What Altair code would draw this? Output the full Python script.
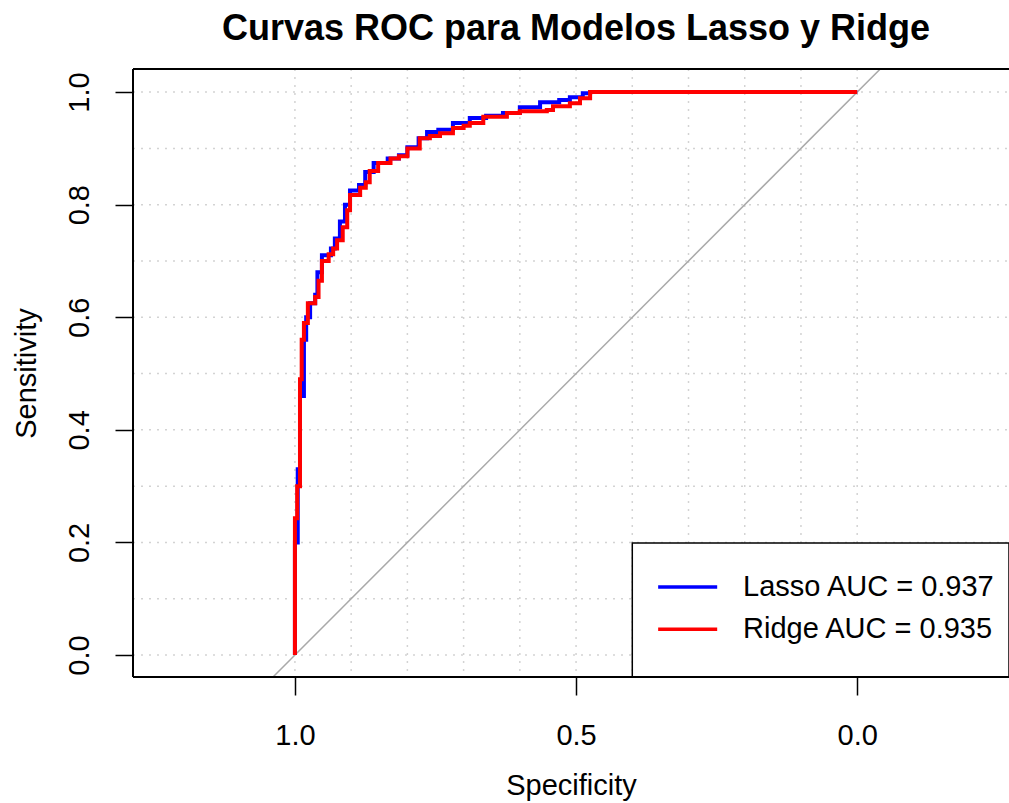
import altair as alt
import pandas as pd

# ---- data ----
ridge_spec = [1.000, 1.000, 0.996, 0.991, 0.988, 0.984, 0.977, 0.964, 0.958, 0.952,
              0.940, 0.932, 0.925, 0.915, 0.907, 0.902, 0.884, 0.874, 0.867, 0.852,
              0.830, 0.815, 0.800, 0.778, 0.760, 0.742, 0.719, 0.700, 0.689, 0.665,
              0.623, 0.600, 0.552, 0.541, 0.511, 0.493, 0.475, 0.000]
ridge_sens = [0.000, 0.243, 0.300, 0.490, 0.560, 0.590, 0.625, 0.636, 0.665, 0.700,
              0.712, 0.722, 0.737, 0.760, 0.790, 0.817, 0.830, 0.840, 0.860, 0.874,
              0.882, 0.886, 0.900, 0.918, 0.922, 0.927, 0.936, 0.940, 0.945, 0.956,
              0.963, 0.966, 0.968, 0.975, 0.980, 0.989, 1.000, 1.000]

lasso_spec = [1.000, 1.000, 0.995, 0.991, 0.984, 0.980, 0.973, 0.964, 0.960, 0.952,
              0.936, 0.929, 0.920, 0.911, 0.902, 0.886, 0.875, 0.860, 0.835, 0.815,
              0.800, 0.780, 0.765, 0.745, 0.719, 0.689, 0.660, 0.630, 0.600, 0.564,
              0.530, 0.511, 0.488, 0.475, 0.000]
lasso_sens = [0.000, 0.200, 0.330, 0.460, 0.560, 0.600, 0.625, 0.640, 0.680, 0.710,
              0.722, 0.740, 0.770, 0.800, 0.825, 0.835, 0.858, 0.874, 0.882, 0.888,
              0.902, 0.918, 0.929, 0.933, 0.945, 0.954, 0.958, 0.963, 0.973, 0.982,
              0.986, 0.991, 0.998, 1.000, 1.000]

models = ["Lasso", "Ridge"]
aucs = [0.937, 0.935]
colors = ["#0000FF", "#FF0000"]

x_ticks = [1.0, 0.5, 0.0]
y_ticks = [0.0, 0.2, 0.4, 0.6, 0.8, 1.0]
grid_vals = [round(i * 0.1, 1) for i in range(11)]

# ---- layout ----
W, H = 876, 608
x_dom = [-0.27, 1.288]
y_dom = [-0.039, 1.041]
FONT = "Liberation Sans"

xs = alt.Scale(domain=x_dom, reverse=True, nice=False, zero=False)
ys = alt.Scale(domain=y_dom, nice=False, zero=False)

roc = pd.concat([
    pd.DataFrame({"spec": lasso_spec, "sens": lasso_sens, "model": "Lasso",
                  "i": range(len(lasso_spec))}),
    pd.DataFrame({"spec": ridge_spec, "sens": ridge_sens, "model": "Ridge",
                  "i": range(len(ridge_spec))}),
])
grid_df = pd.DataFrame({"v": grid_vals})
diag_df = pd.DataFrame({"spec": [1.6, -0.6], "sens": [-0.6, 1.6]})

legend_df = pd.DataFrame({
    "model": models,
    "label": [f"{m} AUC = {a:.3f}" for m, a in zip(models, aucs)],
    "y": [0.121, 0.046],
    "x1": [0.354] * 2,
    "x2": [0.249] * 2,
    "xt": [0.203] * 2,
})
legbox_df = pd.DataFrame({"x1": [0.400], "x2": [x_dom[0]], "y1": [0.199], "y2": [y_dom[0]]})

axis_common = dict(
    labelFont=FONT, titleFont=FONT, labelFontSize=29, titleFontSize=29,
    labelColor="black", titleColor="black", titleFontWeight="normal",
    tickColor="black", tickSize=18, tickWidth=1.5, domain=False, grid=False,
)

base = alt.Chart(roc).encode(
    x=alt.X("spec:Q", scale=xs,
            axis=alt.Axis(values=x_ticks, format=".1f", title="Specificity",
                          labelPadding=26, titlePadding=21, **axis_common)),
    y=alt.Y("sens:Q", scale=ys,
            axis=alt.Axis(values=y_ticks, format=".1f", title="Sensitivity",
                          labelAngle=270, labelAlign="center", labelBaseline="alphabetic",
                          labelPadding=27, titlePadding=24, **axis_common)),
)

vgrid = alt.Chart(grid_df).mark_rule(color="#D3D3D3", strokeDash=[2, 6], strokeWidth=1.5).encode(
    x=alt.X("v:Q", scale=xs), y=alt.value(0), y2=alt.value(H))
hgrid = alt.Chart(grid_df).mark_rule(color="#D3D3D3", strokeDash=[2, 6], strokeWidth=1.5).encode(
    y=alt.Y("v:Q", scale=ys), x=alt.value(0), x2=alt.value(W))

diag = alt.Chart(diag_df).mark_line(color="#A9A9A9", strokeWidth=1.5, clip=True).encode(
    x=alt.X("spec:Q", scale=xs), y=alt.Y("sens:Q", scale=ys))

lines = base.mark_line(strokeWidth=4, interpolate="step-after").encode(
    color=alt.Color("model:N", scale=alt.Scale(domain=models, range=colors), legend=None),
    order="i:Q",
    detail="model:N",
)

legbox = alt.Chart(legbox_df).mark_rect(fill="white", stroke="black", strokeWidth=1.5).encode(
    x=alt.X("x1:Q", scale=xs), x2="x2:Q", y=alt.Y("y1:Q", scale=ys), y2="y2:Q")
leglines = alt.Chart(legend_df).mark_rule(strokeWidth=3.5).encode(
    x=alt.X("x1:Q", scale=xs), x2="x2:Q", y=alt.Y("y:Q", scale=ys),
    color=alt.Color("model:N", scale=alt.Scale(domain=models, range=colors), legend=None))
legtext = alt.Chart(legend_df).mark_text(align="left", baseline="middle", font=FONT,
                                          fontSize=29, color="black").encode(
    x=alt.X("xt:Q", scale=xs), y=alt.Y("y:Q", scale=ys), text="label:N")

frame_top = alt.Chart(grid_df.head(1)).mark_rule(color="black", strokeWidth=2).encode(
    x=alt.value(0), x2=alt.value(W + 5), y=alt.value(0))
frame_left = alt.Chart(grid_df.head(1)).mark_rule(color="black", strokeWidth=2).encode(
    x=alt.value(0), y=alt.value(0), y2=alt.value(H))
frame_bottom = alt.Chart(grid_df.head(1)).mark_rule(color="black", strokeWidth=2).encode(
    x=alt.value(0), x2=alt.value(W + 5), y=alt.value(H))

chart = alt.layer(
    vgrid, hgrid, diag, lines, legbox, leglines, legtext, frame_top, frame_left, frame_bottom
).resolve_scale(color="shared").properties(
    width=W, height=H,
    title=alt.TitleParams("Curvas ROC para Modelos Lasso y Ridge", font=FONT, fontSize=36,
                          fontWeight="bold", color="black", anchor="middle", offset=20, dx=5),
    autosize=alt.AutoSizeParams(type="none"),
    padding={"left": 133, "top": 69, "right": 0, "bottom": 125},
).configure_view(stroke=None).configure(background="white")

chart.save("out.html", embed_options={"renderer": "svg", "actions": False})
